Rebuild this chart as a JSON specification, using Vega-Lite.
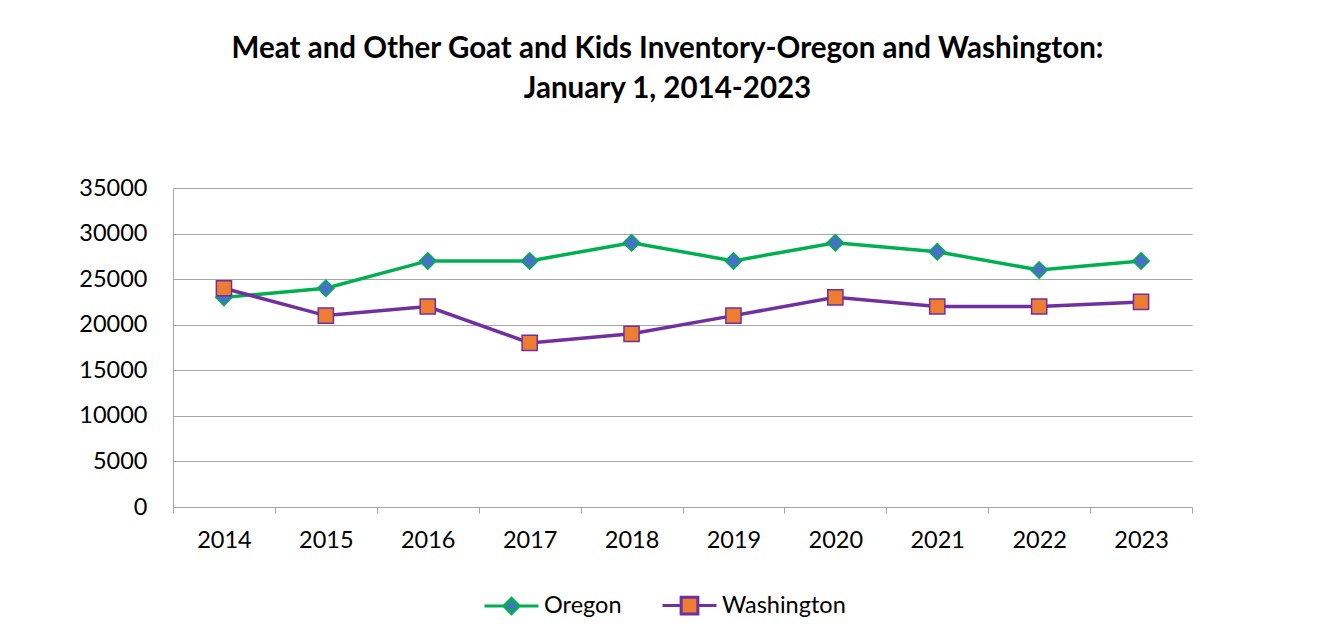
{
  "$schema": "https://vega.github.io/schema/vega-lite/v6.json",
  "width": 1019,
  "height": 319,
  "autosize": {"type": "none"},
  "padding": {"left": 173, "top": 188, "right": 135, "bottom": 131},
  "background": "white",
  "title": {
    "text": ["Meat and Other Goat and Kids Inventory-Oregon and Washington:", "January 1, 2014-2023"],
    "font": "Lato",
    "fontSize": 29.5,
    "fontWeight": "bold",
    "color": "#000000",
    "anchor": "middle",
    "dx": -15,
    "offset": 72,
    "lineHeight": 40
  },
  "config": {
    "view": {"stroke": null},
    "axis": {
      "labelFont": "Lato",
      "labelFontSize": 23.5,
      "labelColor": "#000000",
      "domainColor": "#A6A6A6",
      "gridColor": "#A6A6A6",
      "tickColor": "#A6A6A6",
      "title": null
    },
    "legend": {
      "labelFont": "Lato",
      "labelFontSize": 23.5,
      "labelColor": "#000000"
    }
  },
  "data": {
    "values": [
      {"year": "2014", "series": "Oregon", "value": 23000},
      {"year": "2015", "series": "Oregon", "value": 24000},
      {"year": "2016", "series": "Oregon", "value": 27000},
      {"year": "2017", "series": "Oregon", "value": 27000},
      {"year": "2018", "series": "Oregon", "value": 29000},
      {"year": "2019", "series": "Oregon", "value": 27000},
      {"year": "2020", "series": "Oregon", "value": 29000},
      {"year": "2021", "series": "Oregon", "value": 28000},
      {"year": "2022", "series": "Oregon", "value": 26000},
      {"year": "2023", "series": "Oregon", "value": 27000},
      {"year": "2014", "series": "Washington", "value": 24000},
      {"year": "2015", "series": "Washington", "value": 21000},
      {"year": "2016", "series": "Washington", "value": 22000},
      {"year": "2017", "series": "Washington", "value": 18000},
      {"year": "2018", "series": "Washington", "value": 19000},
      {"year": "2019", "series": "Washington", "value": 21000},
      {"year": "2020", "series": "Washington", "value": 23000},
      {"year": "2021", "series": "Washington", "value": 22000},
      {"year": "2022", "series": "Washington", "value": 22000},
      {"year": "2023", "series": "Washington", "value": 22500}
    ]
  },
  "encoding": {
    "x": {
      "field": "year",
      "type": "ordinal",
      "scale": {"type": "band", "paddingInner": 0, "paddingOuter": 0},
      "bandPosition": 0.5,
      "axis": {
        "labelAngle": 0,
        "tickBand": "extent",
        "tickSize": 6,
        "labelPadding": 15,
        "grid": false,
        "domainColor": "#A6A6A6"
      }
    },
    "y": {
      "field": "value",
      "type": "quantitative",
      "scale": {"domain": [0, 35000], "nice": false},
      "axis": {
        "values": [0, 5000, 10000, 15000, 20000, 25000, 30000, 35000],
        "format": "d",
        "ticks": false,
        "tickSize": 0,
        "labelPadding": 26,
        "grid": true
      }
    }
  },
  "layer": [
    {
      "mark": {"type": "point", "filled": true, "opacity": 1, "size": 0, "strokeWidth": 0},
      "encoding": {
        "fill": {
          "field": "series",
          "type": "nominal",
          "scale": {"domain": ["Oregon", "Washington"], "range": ["#4472C4", "#ED7D31"]},
          "legend": {
            "title": null,
            "orient": "none",
            "direction": "horizontal",
            "legendX": 310,
            "legendY": 389,
            "symbolSize": 2916,
            "symbolStrokeWidth": 3,
            "labelOffset": 4,
            "columnPadding": 34
          }
        },
        "stroke": {
          "field": "series",
          "type": "nominal",
          "scale": {"domain": ["Oregon", "Washington"], "range": ["#00B050", "#7030A0"]},
          "legend": {
            "title": null,
            "orient": "none",
            "direction": "horizontal",
            "legendX": 310,
            "legendY": 389,
            "symbolSize": 2916,
            "symbolStrokeWidth": 3,
            "labelOffset": 4,
            "columnPadding": 34
          }
        },
        "shape": {
          "field": "series",
          "type": "nominal",
          "scale": {
            "domain": ["Oregon", "Washington"],
            "range": [
              "M-1,0H-0.28M0,-0.28L0.28,0L0,0.28L-0.28,0ZM0.28,0H1",
              "M-1,0H-0.31M-0.31,-0.31H0.31V0.31H-0.31ZM0.31,0H1"
            ]
          },
          "legend": {
            "title": null,
            "orient": "none",
            "direction": "horizontal",
            "legendX": 310,
            "legendY": 389,
            "symbolSize": 2916,
            "symbolStrokeWidth": 3,
            "labelOffset": 4,
            "columnPadding": 34
          }
        }
      }
    },
    {
      "mark": {"type": "line", "strokeWidth": 3.5},
      "encoding": {
        "color": {
          "field": "series",
          "type": "nominal",
          "scale": {"domain": ["Oregon", "Washington"], "range": ["#00B050", "#7030A0"]},
          "legend": null
        }
      }
    },
    {
      "transform": [{"filter": "datum.series === 'Oregon'"}],
      "mark": {"type": "point", "shape": "diamond", "filled": true, "fill": "#4472C4", "stroke": "#00B050", "strokeWidth": 1.5, "size": 270, "opacity": 1}
    },
    {
      "transform": [{"filter": "datum.series === 'Washington'"}],
      "mark": {"type": "point", "shape": "square", "filled": true, "fill": "#ED7D31", "stroke": "#7030A0", "strokeWidth": 1.5, "size": 230, "opacity": 1}
    }
  ]
}
